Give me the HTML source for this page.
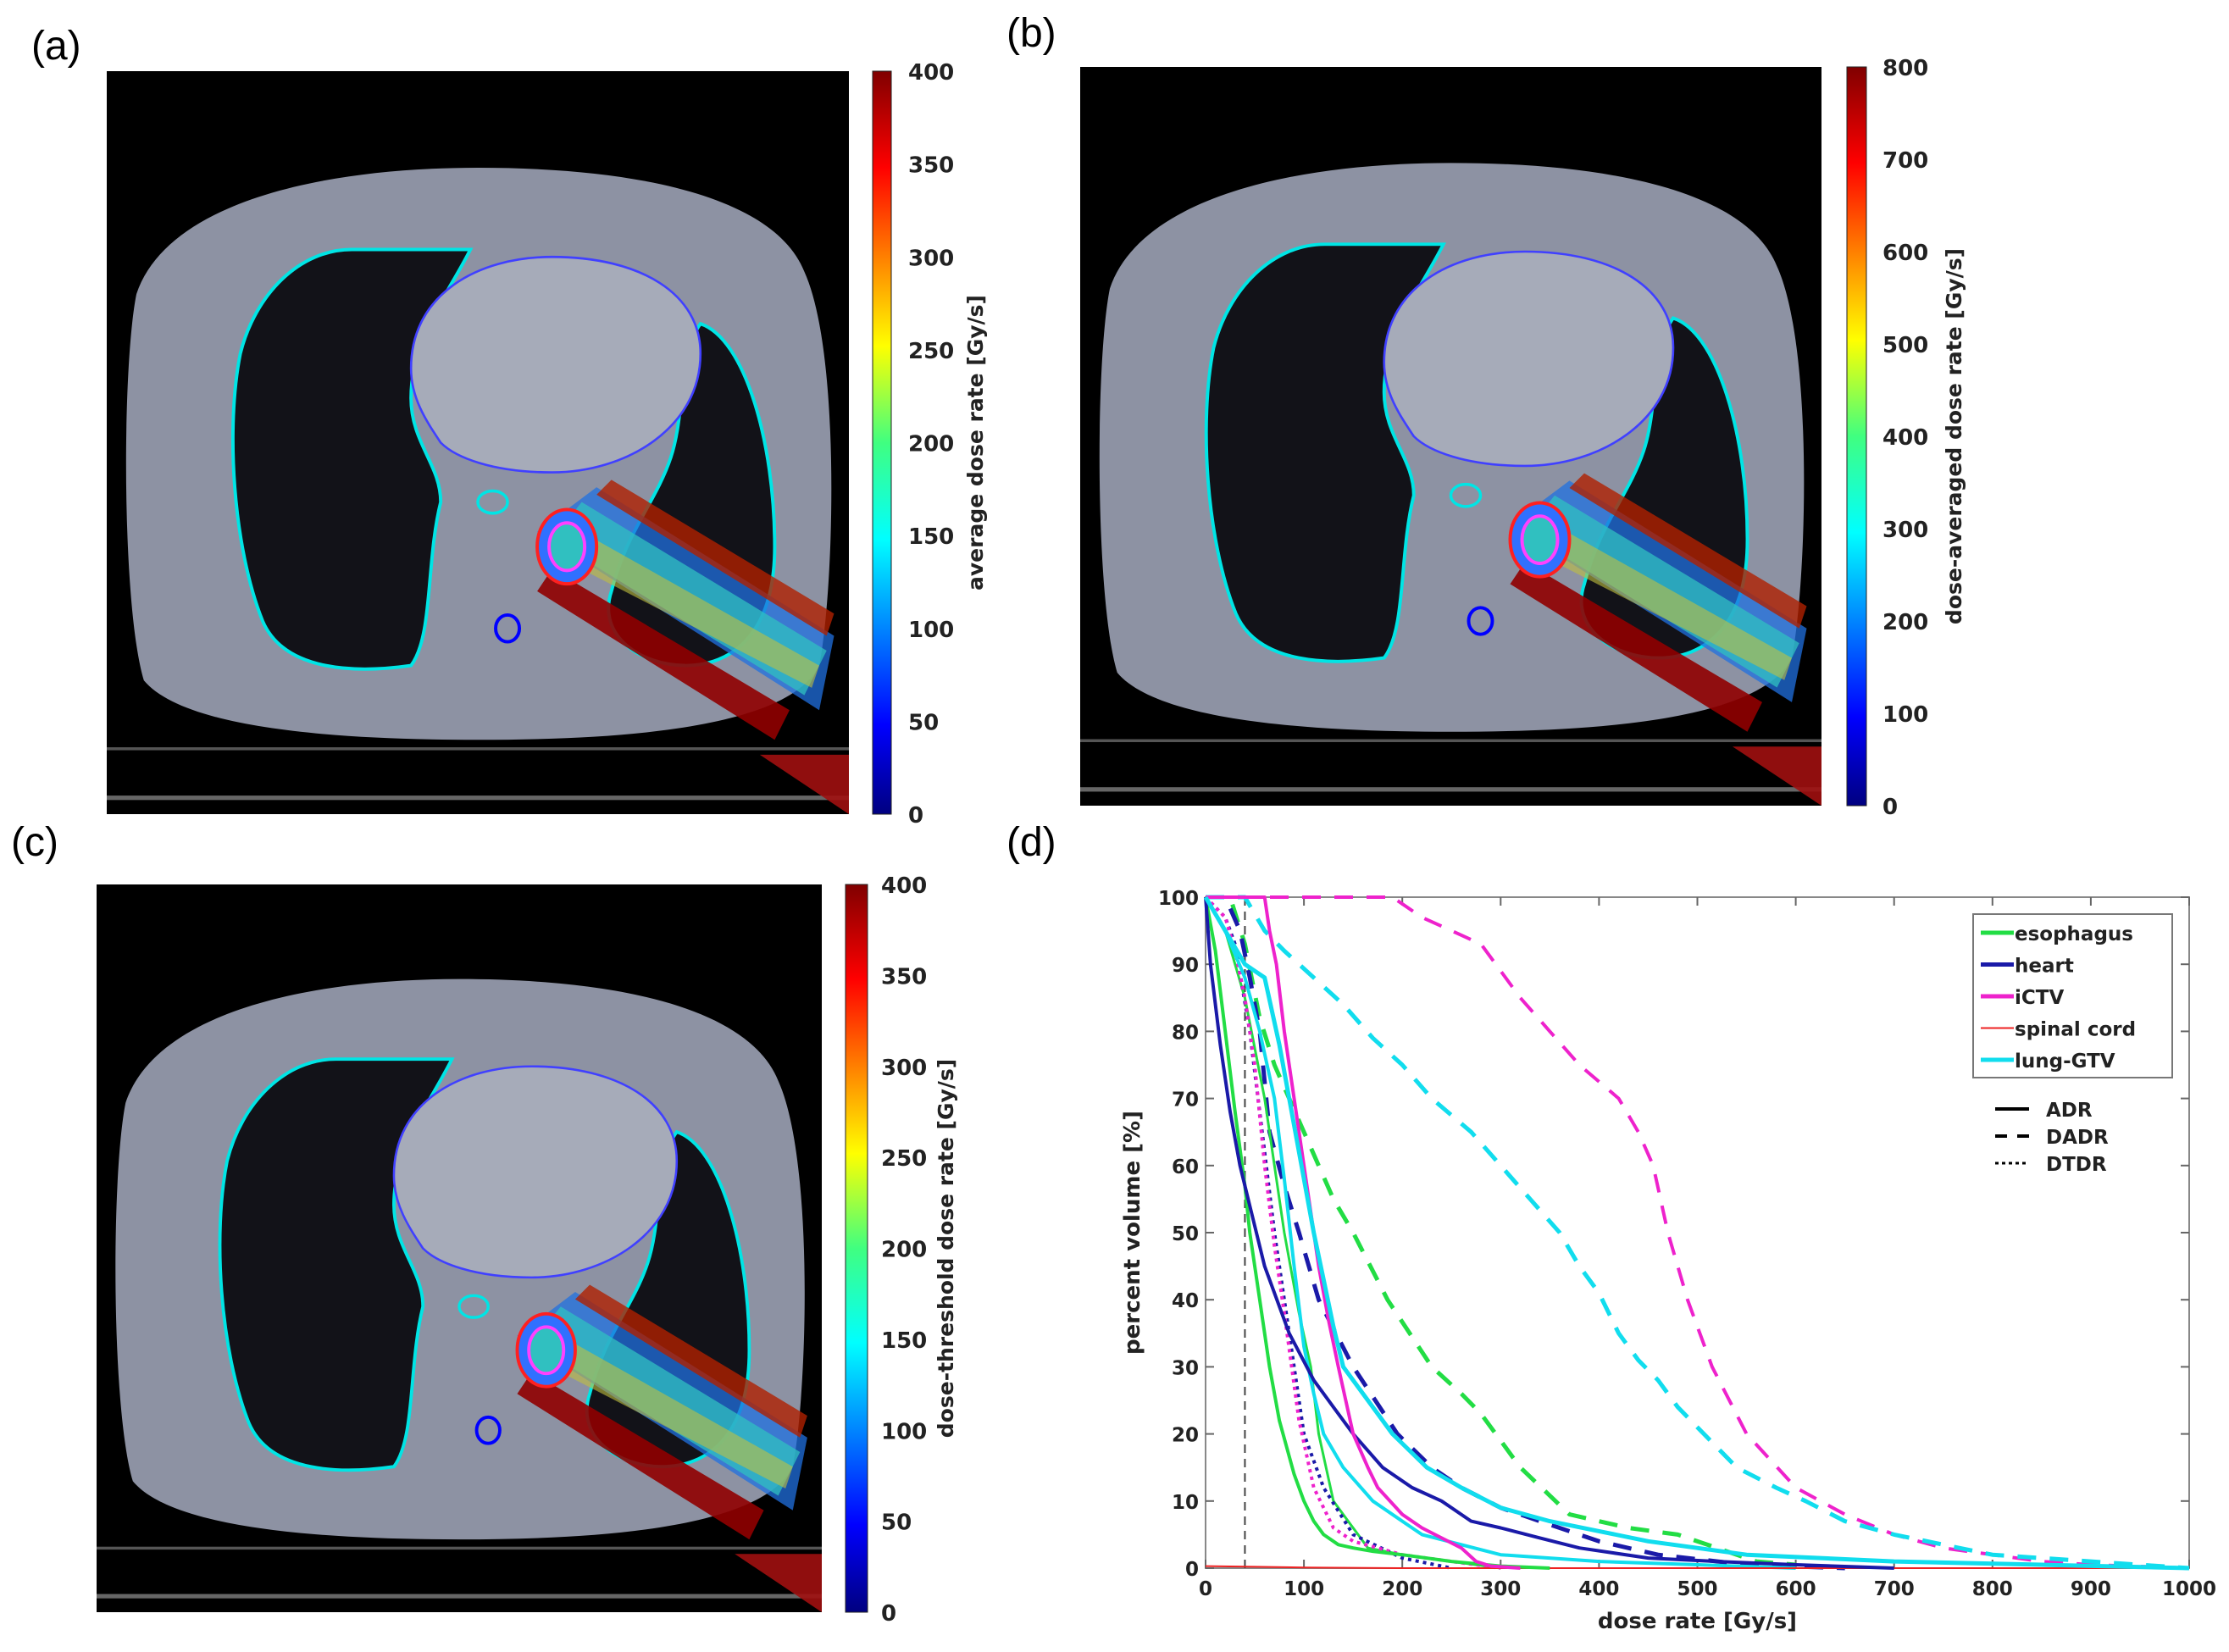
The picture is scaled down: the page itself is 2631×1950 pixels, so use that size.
<!DOCTYPE html>
<html><head><meta charset="utf-8"><style>
html,body{margin:0;padding:0;background:#fff;}
svg{display:block;}
text{font-family:"DejaVu Sans","Liberation Sans",sans-serif;}
</style></head><body>
<svg id="root" width="2631" height="1950" viewBox="0 0 2631 1950" xmlns="http://www.w3.org/2000/svg">
<defs>
<linearGradient id="jet" x1="0" y1="1" x2="0" y2="0">
<stop offset="0" stop-color="#000080"/><stop offset="0.12" stop-color="#0000ff"/><stop offset="0.37" stop-color="#00ffff"/><stop offset="0.5" stop-color="#40ff80"/><stop offset="0.63" stop-color="#ffff00"/><stop offset="0.87" stop-color="#ff0000"/><stop offset="1" stop-color="#800000"/>
</linearGradient>
<g id="ct">
<rect x="0" y="0" width="100" height="100" fill="#000"/>
<path d="M50,13 C72,13 90,17 94,27 C99,38 98,70 96,80 C92,88 72,90 50,90 C28,90 10,88 5,82 C2,72 2,40 4,30 C8,18 28,13 50,13 Z" fill="#8d92a3"/>
<path d="M18,38 C20,30 26,24 33,24 L49,24 C46,30 41,36 41,44 C41,50 45,53 45,58 C43,66 44,76 41,80 C34,81 24,81 21,74 C17,64 16,48 18,38Z" fill="#121218" stroke="#00e5e5" stroke-width="0.45"/>
<path d="M80,34 C86,36 90,50 90,64 C90,76 84,80 78,80 C72,80 66,76 68,70 C70,62 74,58 76,52 C78,46 77,38 80,34Z" fill="#121218" stroke="#00e5e5" stroke-width="0.45"/>
<path d="M41,40 C41,30 50,25 60,25 C72,25 80,30 80,38 C80,48 70,54 60,54 C52,54 47,52 45,50 C43,47 41,44 41,40Z" fill="#a6abb9" stroke="#4040ff" stroke-width="0.3"/>
<ellipse cx="52" cy="58" rx="2" ry="1.5" fill="none" stroke="#00e5e5" stroke-width="0.4"/>
<ellipse cx="54" cy="75" rx="1.6" ry="1.8" fill="none" stroke="#0000ff" stroke-width="0.45"/>
<path d="M58,62 L66,56 L98,76 L96,86 Z" fill="#2070e0" opacity="0.75"/>
<path d="M60,63 L64,58 L97,78 L94,84 Z" fill="#30c0c0" opacity="0.75"/>
<path d="M62,66 L64,62 L96,80 L95,83 Z" fill="#c0c040" opacity="0.6"/>
<path d="M58,70 L60,67 L92,86 L90,90 Z" fill="#900000" opacity="0.9"/>
<path d="M66,57 L68,55 L98,73 L97,76 Z" fill="#b02000" opacity="0.8"/>
<ellipse cx="62" cy="64" rx="4" ry="5" fill="#3070ff" stroke="#ff2020" stroke-width="0.45"/>
<ellipse cx="62" cy="64" rx="2.4" ry="3.2" fill="#30c0c0" stroke="#ff40ff" stroke-width="0.45"/>
<rect x="0" y="91" width="100" height="0.4" fill="#555"/>
<rect x="0" y="97.5" width="100" height="0.6" fill="#666"/>
<path d="M88,92 L100,92 L100,100 Z" fill="#a01010" opacity="0.9"/>
</g>
</defs>
</svg>
<script>
const svg=document.getElementById('root');
const NS='http://www.w3.org/2000/svg';
function mk(tag,attrs,parent){const e=document.createElementNS(NS,tag);for(const k in attrs)e.setAttribute(k,attrs[k]);(parent||svg).appendChild(e);return e;}

const panels=[
 {id:'a',lab:'(a)',lx:37,ly:70,x:126,y:84,w:876,h:877,cbx:1030,cbw:22,tlx:1072,ttx:1160,ticks:['0','50','100','150','200','250','300','350','400'],title:'average dose rate [Gy/s]'},
 {id:'b',lab:'(b)',lx:1188,ly:55,x:1275,y:79,w:875,h:872,cbx:2180,cbw:23,tlx:2222,ttx:2315,ticks:['0','100','200','300','400','500','600','700','800'],title:'dose-averaged dose rate [Gy/s]'},
 {id:'c',lab:'(c)',lx:13,ly:1010,x:114,y:1044,w:856,h:859,cbx:998,cbw:26,tlx:1040,ttx:1125,ticks:['0','50','100','150','200','250','300','350','400'],title:'dose-threshold dose rate [Gy/s]'}
];
panels.forEach(p=>{
 const l=mk('text',{x:p.lx,y:p.ly,'font-size':48,style:'font-family:"Liberation Sans",sans-serif'});l.textContent=p.lab;
 
 
 const u=mk('use',{href:'#ct',transform:`translate(${p.x},${p.y}) scale(${p.w/100},${p.h/100})`});
 
 
 const cb=mk('rect',{x:p.cbx,y:p.y,width:p.cbw,height:p.h,fill:'url(#jet)',stroke:'#222','stroke-width':1});
 
 
 p.ticks.forEach((t,i)=>{
  const yy=p.y+p.h-i*p.h/(p.ticks.length-1);
  const tx=mk('text',{x:p.tlx,y:yy+10,'font-size':26,'font-weight':'bold',fill:'#222'});tx.textContent=t;
  
  
 });
 const tt=mk('text',{x:p.ttx,y:p.y+p.h/2,'font-size':25,'font-weight':'bold','text-anchor':'middle',transform:`rotate(-90 ${p.ttx} ${p.y+p.h/2})`,fill:'#222'});tt.textContent=p.title;
 
 
});

const xTicks=[0,100,200,300,400,500,600,700,800,900,1000];
const yTicks=[0,10,20,30,40,50,60,70,80,90,100];
const esoAdrX=[0,10,20,30,40,45,55,65,75,90,100,110,120,135,150,170,200,250,300,350];
const esoAdrY=[100,92,80,68,57,50,40,30,22,14,10,7,5,3.5,3,2.5,2,1,0.3,0];
const esoDtdrX=[0,20,40,60,80,95,107,115,130,145,155,165,200,250,300];
const esoDtdrY=[100,95,85,70,50,38,30,20,10,7,5,3,2,1,0];
const esoDadrX=[0,25,40,55,70,100,130,150,185,230,260,280,320,370,400,430,480,520,560,600];
const esoDadrY=[100,100,93,82,75,65,55,50,40,30,26,23,15,8,7,6,5,3,1,0.5];
const heartAdrX=[0,5,15,25,35,45,60,85,110,130,150,180,210,240,270,300,340,380,450,520,600,700];
const heartAdrY=[100,90,78,68,60,54,45,35,28,24,20,15,12,10,7,6,4.5,3,1.5,1,0.5,0];
const heartDadrX=[0,20,35,45,55,65,80,95,115,150,195,230,260,300,340,400,460,550,650];
const heartDadrY=[100,100,95,88,80,65,57,50,40,30,20,15,12,9,7,4,2,0.5,0];
const heartDtdrX=[0,20,30,45,60,70,85,100,120,150,200,250];
const heartDtdrY=[100,97,93,80,62,50,35,20,12,5,1.5,0];
const ictvAdrX=[0,50,60,65,72,80,90,100,115,125,135,150,165,175,200,220,240,260,275,290,320];
const ictvAdrY=[100,100,100,95,90,80,70,60,45,37,30,20,15,12,8,6,4.5,3,1,0.3,0];
const ictvDadrX=[0,100,190,220,250,280,320,350,380,420,440,455,470,490,515,550,600,650,700,750,800,850,900,1000];
const ictvDadrY=[100,100,100,97,95,93,85,80,75,70,65,60,50,40,30,20,12,8,5,3,2,1,0.5,0];
const ictvDtdrX=[0,20,30,40,50,60,70,80,95,110,130,150,200,250,300];
const ictvDtdrY=[100,97,92,85,75,60,48,38,22,12,6,4,2,1,0];
const lungAdrX=[0,20,40,60,75,85,100,110,120,130,140,165,190,225,260,300,350,400,450,550,700,850,1000];
const lungAdrY=[100,95,90,88,78,70,58,50,43,36,30,25,20,15,12,9,7,5.5,4,2,1,0.5,0];
const lungDtdrX=[0,20,40,55,70,80,90,100,110,120,140,170,200,220,260,300,400,500,600];
const lungDtdrY=[100,95,88,80,70,58,45,33,26,20,15,10,7,5,3.5,2,1,0.5,0];
const lungDadrX=[0,40,60,80,110,140,170,200,230,270,300,330,360,380,400,420,440,460,480,500,540,580,610,650,700,750,800,900,1000];
const lungDadrY=[100,100,95,92,88,84,79,75,70,65,60,55,50,45,41,35,31,28,24,21,15,12,10,7,5,3.5,2,1,0];
const cordX=[0,50,100,200,400,1000];
const cordY=[0.3,0.2,0.1,0,0,0];

const X0=1423,X1=2584,Y0=1851,Y1=1059;
const xs=d=>X0+d/1000*(X1-X0);
const ys=v=>Y0-v/100*(Y0-Y1);
const gC=mk('g',{});


const dl=mk('text',{x:1188,y:1010,'font-size':48,style:'font-family:"Liberation Sans",sans-serif'},gC);dl.textContent='(d)';


const frame=mk('rect',{x:X0,y:Y1,width:X1-X0,height:Y0-Y1,fill:'none',stroke:'#888','stroke-width':2},gC);


xTicks.forEach(t=>{
 const x=xs(t);
 mk('line',{x1:x,y1:Y0,x2:x,y2:Y0-10,stroke:'#666','stroke-width':2},gC);
 mk('line',{x1:x,y1:Y1,x2:x,y2:Y1+10,stroke:'#666','stroke-width':2},gC);
 const tx=mk('text',{x:x,y:Y0+32,'font-size':23,'font-weight':'bold','text-anchor':'middle',fill:'#222'},gC);tx.textContent=t;
 
 
});
yTicks.forEach(t=>{
 const y=ys(t);
 mk('line',{x1:X0,y1:y,x2:X0+10,y2:y,stroke:'#666','stroke-width':2},gC);
 mk('line',{x1:X1,y1:y,x2:X1-10,y2:y,stroke:'#666','stroke-width':2},gC);
 const tx=mk('text',{x:X0-8,y:y+9,'font-size':23,'font-weight':'bold','text-anchor':'end',fill:'#222'},gC);tx.textContent=t;
 
 
});
const xl=mk('text',{x:(X0+X1)/2,y:1922,'font-size':26,'font-weight':'bold','text-anchor':'middle',fill:'#222'},gC);xl.textContent='dose rate [Gy/s]';


const yl=mk('text',{x:1345,y:1455,'font-size':26,'font-weight':'bold','text-anchor':'middle',transform:'rotate(-90 1345 1455)',fill:'#222'},gC);yl.textContent='percent volume [%]';


const vl=mk('line',{x1:xs(40),y1:Y1,x2:xs(40),y2:Y0,stroke:'#444','stroke-width':2,'stroke-dasharray':'10 7'},gC);



const GREEN='#22dd44',BLUE='#1a1aa8',MAG='#ee22cc',RED='#ee2222',CYAN='#11ddee';
const SOLID='',DASH='22 16',DOT='4 5';
const series=[
 ['esophagus-dadr',esoDadrX,esoDadrY,GREEN,DASH,5],
 ['heart-dadr',heartDadrX,heartDadrY,BLUE,DASH,5],
 ['ictv-dadr',ictvDadrX,ictvDadrY,MAG,DASH,4],
 ['lung-gtv-dadr',lungDadrX,lungDadrY,CYAN,DASH,5],
 ['esophagus-dtdr',esoDtdrX,esoDtdrY,GREEN,SOLID,3],
 ['heart-dtdr',heartDtdrX,heartDtdrY,BLUE,DOT,4],
 ['ictv-dtdr',ictvDtdrX,ictvDtdrY,MAG,DOT,4],
 ['lung-gtv-dtdr',lungDtdrX,lungDtdrY,CYAN,SOLID,4],
 ['spinal-cord-adr',cordX,cordY,RED,SOLID,2],
 ['esophagus-adr',esoAdrX,esoAdrY,GREEN,SOLID,4],
 ['heart-adr',heartAdrX,heartAdrY,BLUE,SOLID,4],
 ['ictv-adr',ictvAdrX,ictvAdrY,MAG,SOLID,4],
 ['lung-gtv-adr',lungAdrX,lungAdrY,CYAN,SOLID,5]
];
series.forEach(s=>{
 const pts=s[1].map((d,i)=>xs(d).toFixed(1)+','+ys(s[2][i]).toFixed(1)).join(' ');
 const p=mk('polyline',{points:pts,fill:'none',stroke:s[3],'stroke-width':s[5],'stroke-dasharray':s[4],'stroke-linejoin':'round'},gC);
 
 
});

const lg=mk('g',{},gC);


mk('rect',{x:2329,y:1079,width:235,height:193,fill:'#fff',stroke:'#777','stroke-width':2},lg);
const legNames=['esophagus','heart','iCTV','spinal cord','lung-GTV'];
const legCols=[GREEN,BLUE,MAG,RED,CYAN];
legNames.forEach((n,i)=>{
 const y=1101+i*37.5;
 mk('line',{x1:2338,y1:y,x2:2377,y2:y,stroke:legCols[i],'stroke-width':i==3?2:5},lg);
 const t=mk('text',{x:2378,y:y+9,'font-size':23,'font-weight':'bold',fill:'#222'},lg);t.textContent=n;
 
 
});
const styleNames=['ADR','DADR','DTDR'];
const styleDash=['','14 12','4 4'];
styleNames.forEach((n,i)=>{
 const y=1309+i*32;
 mk('line',{x1:2355,y1:y,x2:2395,y2:y,stroke:'#000','stroke-width':i==2?3:4,'stroke-dasharray':styleDash[i]},lg);
 const t=mk('text',{x:2415,y:y+9,'font-size':23,'font-weight':'bold',fill:'#222'},lg);t.textContent=n;
 
 
});
</script>
</body></html>
